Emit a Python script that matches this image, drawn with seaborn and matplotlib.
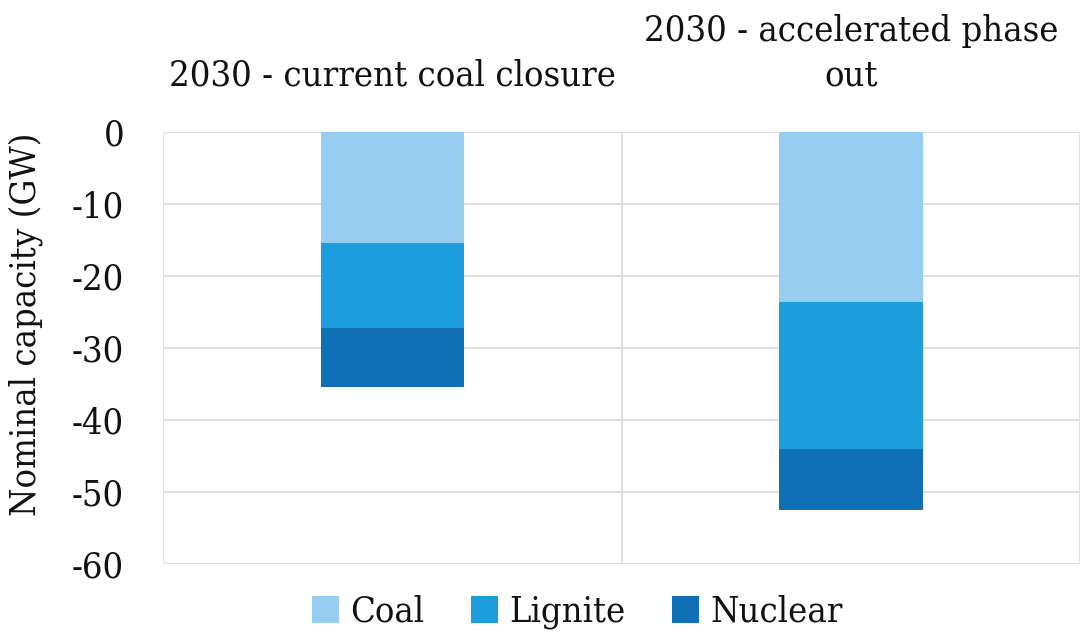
import matplotlib
matplotlib.use("Agg")
import matplotlib.pyplot as plt
import seaborn as sns
import numpy as np
import pandas as pd

# Capacity removed by 2030 per scenario (GW, negative = closures)
scenarios = ["2030 - current coal closure", "2030 - accelerated phase\nout"]
coal = [-15.5, -23.6]
lignite = [-11.7, -20.5]
nuclear = [-8.2, -8.4]

layer_names = ["Coal", "Lignite", "Nuclear"]
layer_colors = ["#96CDF0", "#1B9DDE", "#1070B6"]
y_ticks = [0, -10, -20, -30, -40, -50, -60]

sns.set_theme(style="white")
plt.rcParams["font.family"] = ["DejaVu Serif", "DejaVu Sans"]
plt.rcParams["font.stretch"] = "condensed"
text_color = "#111111"
plt.rcParams["text.color"] = text_color
plt.rcParams["xtick.color"] = text_color
plt.rcParams["ytick.color"] = text_color
plt.rcParams["axes.labelcolor"] = text_color

FS = 26

df = pd.DataFrame({"scenario": scenarios, "Coal": coal,
                   "Lignite": lignite, "Nuclear": nuclear})
# cumulative depth of each layer, drawn deepest first so shallower layers sit on top
df["cum_Coal"] = df["Coal"]
df["cum_Lignite"] = df["Coal"] + df["Lignite"]
df["cum_Nuclear"] = df["Coal"] + df["Lignite"] + df["Nuclear"]

fig = plt.figure(figsize=(10.83, 6.37), dpi=100)
ax = fig.add_axes([0.1505, 0.115, 0.847, 0.678])

for name, color in reversed(list(zip(layer_names, layer_colors))):
    sns.barplot(data=df, x="scenario", y=f"cum_{name}", color=color,
                width=0.313, saturation=1, ax=ax, label=name, zorder=3,
                linewidth=0)

ax.set_ylim(-60, 0)
ax.set_xlim(-0.5, 1.5)
ax.set_yticks(y_ticks)
ax.set_yticklabels([str(t) for t in y_ticks], fontsize=FS)
ax.set_ylabel("Nominal capacity (GW)", fontsize=FS)
ax.yaxis.set_label_coords(-0.131, 0.555)
ax.set_xlabel("")

ax.xaxis.tick_top()
ax.set_xticks(range(len(scenarios)))
ax.set_xticklabels(scenarios, fontsize=FS, linespacing=1.42)
ax.tick_params(axis="both", length=0)
ax.tick_params(axis="x", pad=28)
ax.tick_params(axis="y", pad=28)

grid_color = "#D9D9D9"
ax.yaxis.grid(True, color=grid_color, linewidth=1.2, zorder=0)
for xb in [-0.5, 0.5, 1.5]:
    ax.axvline(xb, color=grid_color, linewidth=1.2, zorder=1)
for s in ax.spines.values():
    s.set_visible(False)

handles, labels = ax.get_legend_handles_labels()
order = [labels.index(n) for n in layer_names]
ax.legend([handles[i] for i in order], [labels[i] for i in order],
          loc="center", bbox_to_anchor=(0.533, 0.039),
          bbox_transform=fig.transFigure, ncol=3, frameon=False,
          fontsize=FS, handlelength=0.75, handleheight=0.75,
          handletextpad=0.3, columnspacing=1.3)

fig.savefig("out.png", dpi=100)
